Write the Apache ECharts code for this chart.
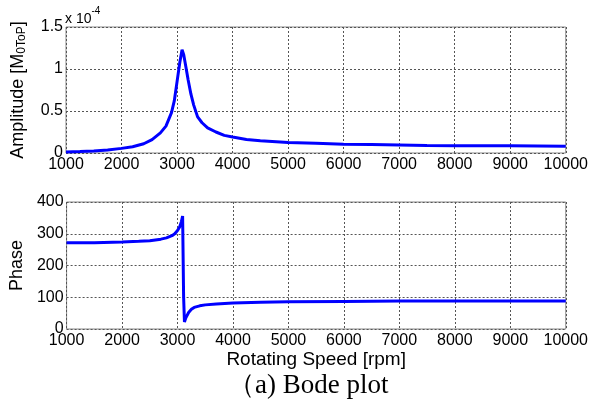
<!DOCTYPE html>
<html>
<head>
<meta charset="utf-8">
<script src="https://cdn.jsdelivr.net/npm/echarts@6/dist/echarts.min.js"></script>
<style>
  html, body { margin: 0; padding: 0; background: #fff; }
  #chart { width: 591px; height: 403px; }
</style>
</head>
<body>
<div id="chart"></div>
<script>
// rotating speed [rpm] and amplitude (x 1e-4)
const ampSpeed = [1000, 1250, 1500, 1750, 2000, 2200, 2400, 2550, 2700, 2800, 2900, 2950, 3000, 3050, 3090, 3120, 3160, 3200, 3250, 3300, 3370, 3450, 3550, 3700, 3850, 4000, 4250, 4500, 5000, 5500, 6000, 6500, 7000, 7500, 8000, 9000, 9500, 10000]
const ampValue = [0.012, 0.018, 0.025, 0.035, 0.055, 0.075, 0.11, 0.16, 0.24, 0.32, 0.48, 0.62, 0.85, 1.08, 1.23, 1.17, 1.02, 0.87, 0.7, 0.57, 0.43, 0.36, 0.3, 0.25, 0.21, 0.19, 0.16, 0.145, 0.125, 0.115, 0.105, 0.1, 0.095, 0.09, 0.087, 0.085, 0.084, 0.08]

// phase [deg]
const phaseSpeed = [1000, 1500, 2000, 2300, 2500, 2700, 2800, 2900, 2950, 3000, 3040, 3070, 3092, 3110, 3125, 3150, 3200, 3250, 3300, 3400, 3500, 3700, 4000, 4500, 5000, 6000, 7000, 8000, 10000]
const phaseValue = [272, 272, 274, 276, 278, 283, 287, 294, 300, 310, 322, 338, 356, 100, 22, 35, 52, 62, 68, 73, 76, 79, 82, 84, 86, 87, 88, 88, 88]

const xTicks = { min: 1000, max: 10000, interval: 1000 }
const ampTicks = { min: 0, max: 1.5, interval: 0.5 }
const phaseTicks = { min: 0, max: 400, interval: 100 }

const chart = echarts.init(document.getElementById('chart'))

const font = 'Liberation Sans, Arial, sans-serif'
const splitLine = { show: true, lineStyle: { color: '#555', type: [2, 2], width: 1 } }
const plain = v => String(v)

function xAxis(gridIndex, withName) {
  return {
    type: 'value',
    gridIndex,
    ...xTicks,
    axisLine: { show: false },
    axisTick: { show: false },
    axisLabel: { color: '#000', fontSize: 16, fontFamily: font, margin: 4, formatter: plain },
    splitLine,
    name: withName ? 'Rotating Speed [rpm]' : '',
    nameLocation: 'middle',
    nameGap: 18,
    nameTextStyle: { color: '#000', fontSize: 19, fontFamily: font, verticalAlign: 'top' },
  }
}

const option = {
  animation: false,
  backgroundColor: '#fff',
  grid: [
    { left: 66, right: 25, top: 27, height: 126, show: true, borderColor: '#888', borderWidth: 1 },
    { left: 66, right: 25, top: 202, height: 127, show: true, borderColor: '#888', borderWidth: 1 },
  ],
  xAxis: [xAxis(0, false), xAxis(1, true)],
  yAxis: [
    {
      type: 'value',
      gridIndex: 0,
      ...ampTicks,
      axisLine: { show: false },
      axisTick: { show: false },
      axisLabel: { color: '#000', fontSize: 16, fontFamily: font, margin: 3, formatter: plain },
      splitLine,
      name: '{a|Amplitude [M}{s|0ToP}{a|]}',
      nameLocation: 'middle',
      nameGap: 38,
      nameTextStyle: {
        rich: {
          a: { fontSize: 18, fontFamily: font, color: '#000' },
          s: { fontSize: 12, fontFamily: font, color: '#000', verticalAlign: 'bottom', padding: [8, 0, 0, 0] },
        },
      },
    },
    {
      type: 'value',
      gridIndex: 1,
      ...phaseTicks,
      axisLine: { show: false },
      axisTick: { show: false },
      axisLabel: { color: '#000', fontSize: 16, fontFamily: font, margin: 3, formatter: plain },
      splitLine,
      name: 'Phase',
      nameLocation: 'middle',
      nameGap: 38,
      nameTextStyle: { color: '#000', fontSize: 18, fontFamily: font },
    },
  ],
  graphic: [
    {
      type: 'text',
      left: 65,
      top: 6,
      style: {
        text: '{a|x 10}{s|-4}',
        rich: {
          a: { fontSize: 14, fontFamily: font, fill: '#000', padding: [6, 0, 0, 0] },
          s: { fontSize: 10, fontFamily: font, fill: '#000', verticalAlign: 'top' },
        },
      },
    },
    {
      type: 'text',
      left: 228,
      top: 372,
      style: {
        text: '（a) Bode plot',
        fontSize: 27,
        fontFamily: 'Liberation Serif, Times New Roman, serif',
        fill: '#000',
      },
    },
  ],
  series: [
    {
      type: 'line',
      xAxisIndex: 0,
      yAxisIndex: 0,
      data: ampSpeed.map((s, i) => [s, ampValue[i]]),
      showSymbol: false,
      lineStyle: { color: '#0000ff', width: 3 },
    },
    {
      type: 'line',
      xAxisIndex: 1,
      yAxisIndex: 1,
      data: phaseSpeed.map((s, i) => [s, phaseValue[i]]),
      showSymbol: false,
      lineStyle: { color: '#0000ff', width: 3 },
    },
  ],
}

chart.setOption(option)
</script>
</body>
</html>
